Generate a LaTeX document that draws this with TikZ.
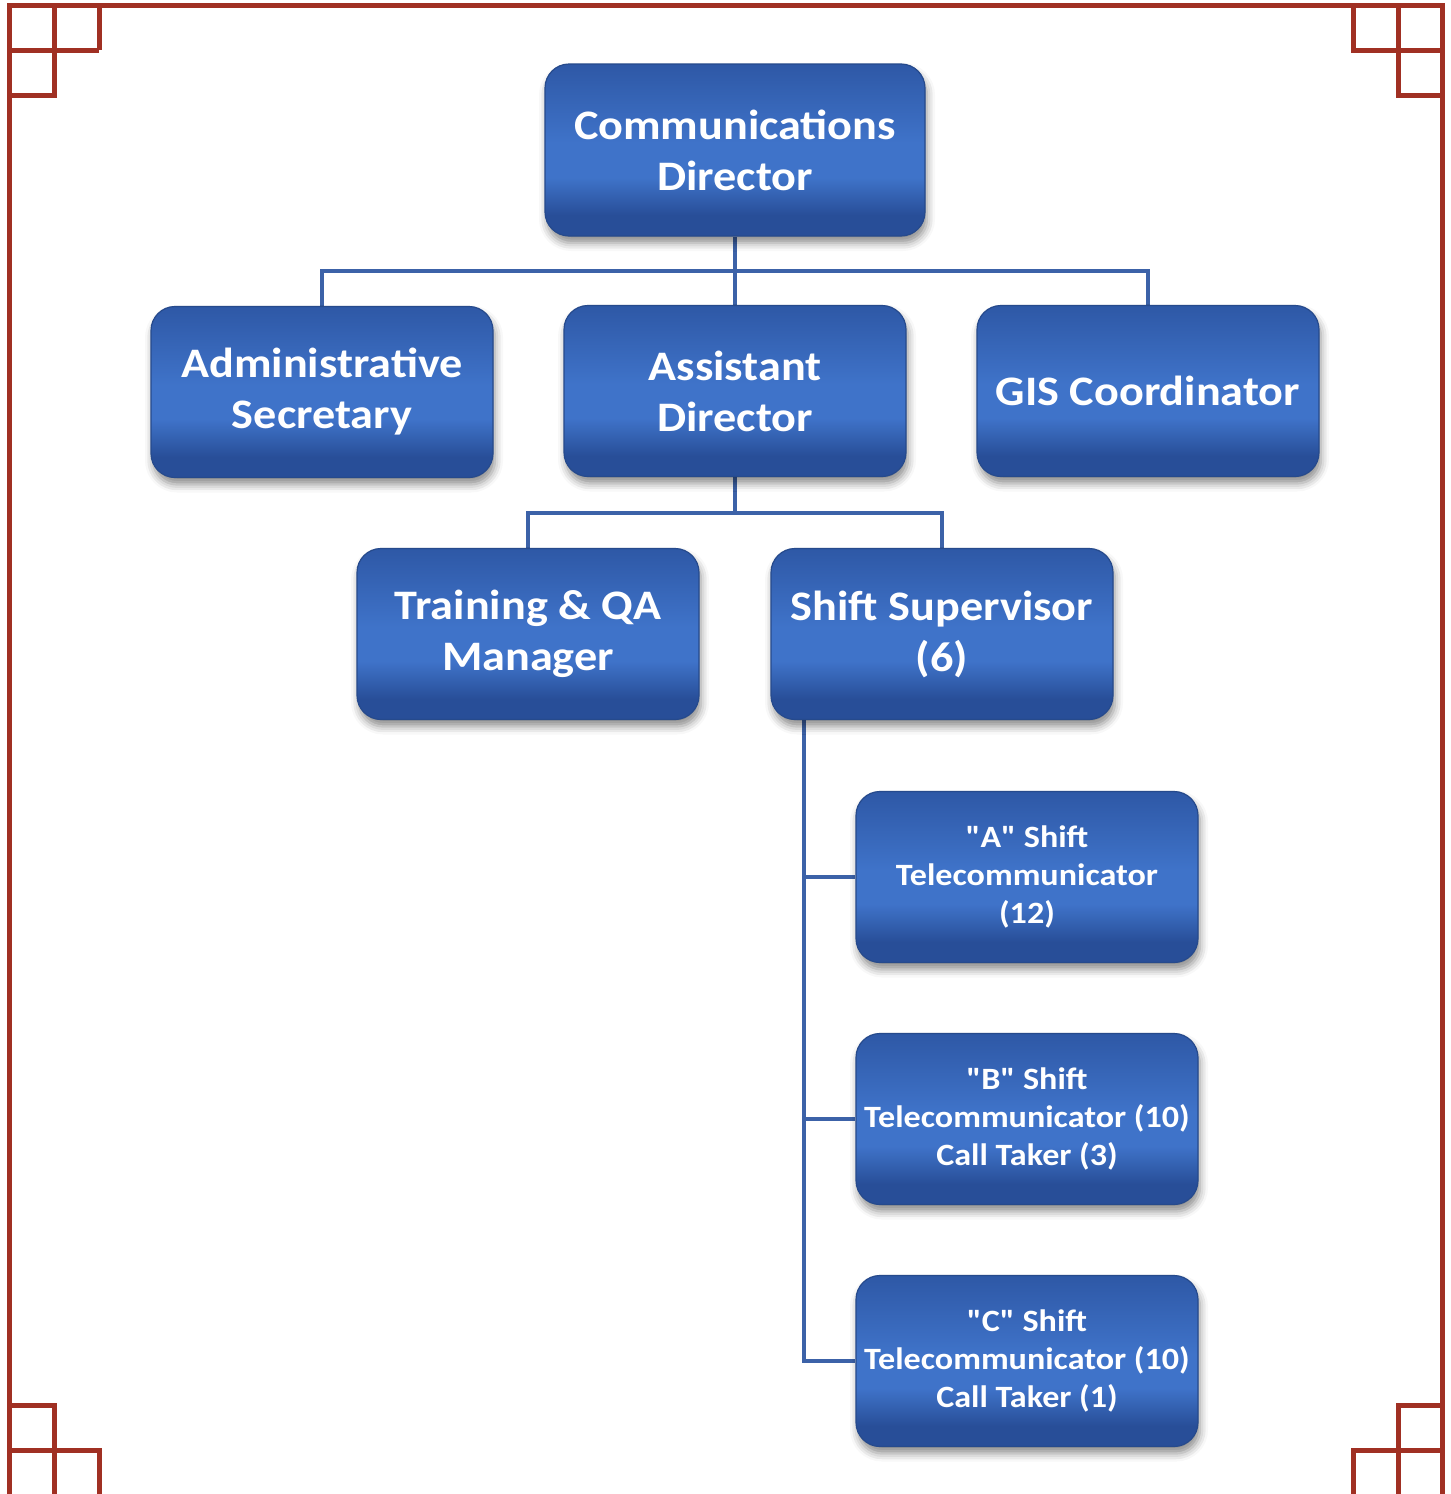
\documentclass[tikz,border=0pt]{standalone}
\usepackage{fontspec}
\newfontfamily\boxfont{Carlito}[FakeStretch=1.1]
\usetikzlibrary{calc,backgrounds,shadows.blur}

\definecolor{framered}{RGB}{160,48,35}
\definecolor{linkblue}{RGB}{60,98,168}
\definecolor{bxtop}{RGB}{46,88,166}
\definecolor{bxlight}{RGB}{63,115,201}
\definecolor{bxbot}{RGB}{40,78,152}
\definecolor{bxedge}{RGB}{38,74,140}

% vertical gradient of the boxes; the path spans 25bp (bottom) to 75bp (top)
\pgfdeclareverticalshading{boxshade}{100bp}{%
  color(0bp)=(bxbot); color(25bp)=(bxbot); color(31bp)=(bxbot);
  color(42bp)=(bxlight); color(52bp)=(bxlight); color(75bp)=(bxtop);
  color(100bp)=(bxtop)}

\tikzset{
  orgbox/.style={rectangle, rounded corners=12pt, shading=boxshade,
    draw=bxedge, line width=0.6pt, text=white, align=center,
    minimum width=171pt, minimum height=85.5pt, inner sep=2pt,
    blur shadow={shadow xshift=1pt, shadow yshift=-3.5pt,
      shadow blur radius=4pt, shadow opacity=45}},
  bigtext/.style={font=\boxfont\bfseries\fontsize{21}{25.5}\selectfont},
  smalltext/.style={font=\boxfont\bfseries\fontsize{15.5}{19}\selectfont},
  conn/.style={draw=linkblue, line width=2pt},
  frameline/.style={draw=framered, line width=2.5pt}
}

\begin{document}
\begin{tikzpicture}[x=0.5pt,y=-0.5pt]
\useasboundingbox (0,0) rectangle (1451,1494);
\begin{scope}
\clip (0,0) rectangle (1451,1494);

% outer frame with the stepped corner squares
\draw[frameline] (9.5,5) rectangle (1442,1496);
\draw[frameline] (9.5,50) -- (99,50);
\draw[frameline] (54,5) -- (54,95) -- (9.5,95);
\draw[frameline] (99,5) -- (99,50);
\draw[frameline] (1442,50) -- (1353,50) -- (1353,5);
\draw[frameline] (1398,5) -- (1398,95) -- (1442,95);
\draw[frameline] (9.5,1405) -- (54,1405) -- (54,1496);
\draw[frameline] (9.5,1450) -- (99,1450) -- (99,1496);
\draw[frameline] (1442,1405) -- (1398,1405) -- (1398,1496);
\draw[frameline] (1442,1450) -- (1353,1450) -- (1353,1496);
\end{scope}

% boxes
\node[orgbox, bigtext, minimum width=190pt, minimum height=86pt] (cd) at (735,150) {Communications\\Director};
\node[orgbox, bigtext] (as) at (322,392) {Administrative\\Secretary};
\node[orgbox, bigtext] (ad) at (735,391) {Assistant\\Director};
\node[orgbox, bigtext] (gis) at (1148,391) {GIS Coordinator};
\node[orgbox, bigtext] (tq) at (528,634) {Training \& QA\\Manager};
\node[orgbox, bigtext] (ss) at (942,634) {Shift Supervisor\\(6)};
\node[orgbox, smalltext] (sa) at (1027,877) {"A" Shift\\Telecommunicator\\(12)};
\node[orgbox, smalltext] (sb) at (1027,1119) {"B" Shift\\Telecommunicator (10)\\Call Taker (3)};
\node[orgbox, smalltext] (sc) at (1027,1361) {"C" Shift\\Telecommunicator (10)\\Call Taker (1)};

% connectors
\coordinate (j1) at (735,271);
\coordinate (j2) at (735,513);
\coordinate (trunk) at ($(ss.south west)+(34,0)$);
\begin{scope}[on background layer]
\draw[conn] (cd.south) -- (ad.north);
\draw[conn] (as.north) |- (j1) -| (gis.north);
\draw[conn] (ad.south) -- (j2);
\draw[conn] (tq.north) |- (j2) -| (ss.north);
\draw[conn] (trunk) |- (sc.west);
\draw[conn] (trunk) |- (sa.west);
\draw[conn] (trunk) |- (sb.west);
\end{scope}
\end{tikzpicture}
\end{document}
